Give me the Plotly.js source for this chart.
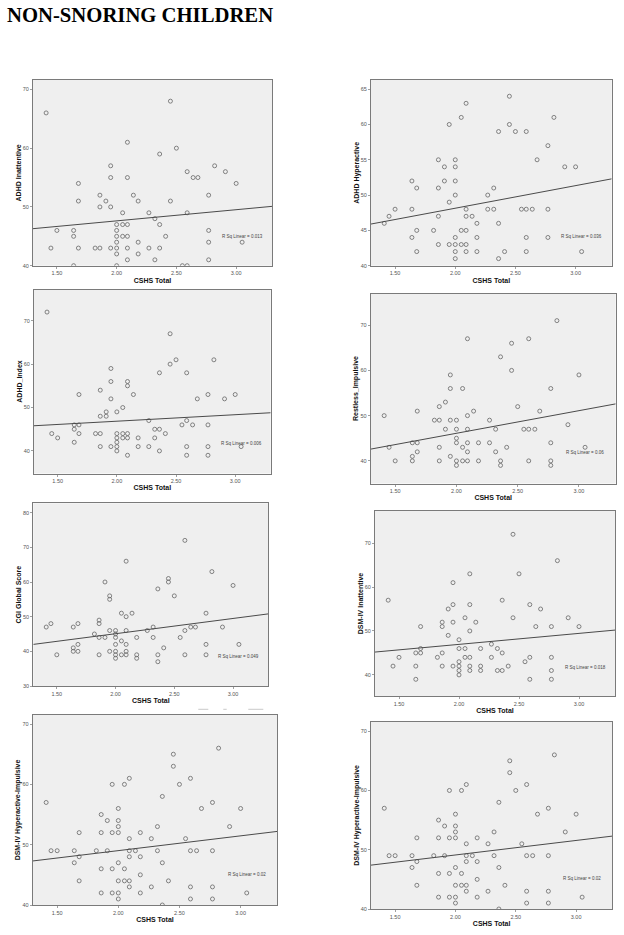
<!DOCTYPE html>
<html><head><meta charset="utf-8">
<script src="https://cdn.plot.ly/plotly-3.0.1.min.js"></script>
<style>html,body{margin:0;padding:0;background:#fff;}#chart{width:624px;height:935px;}</style>
</head><body><div id="chart"></div>
<script>
// ---- DATA ----
const chartTitle = 'NON-SNORING CHILDREN';
const xTitle = 'CSHS Total';
const yTitles = ['ADHD Inattentive','ADHD Hyperactive','ADHD_Index','Restless_Impulsive',
                 'CGI Global Score','DSM-IV Inattentive','DSM-IV Hyperactive-Impulsive','DSM-IV Hyperactive-Impulsive'];
const rSqLabels = ['R Sq Linear = 0.013','R Sq Linear = 0.036','R Sq Linear = 0.006','R Sq Linear = 0.06',
                   'R Sq Linear = 0.049','R Sq Linear = 0.018','R Sq Linear = 0.02','R Sq Linear = 0.02'];

const inattX = [1.41,2.45,2.09,2.50,2.36,1.95,2.82,2.59,2.91,1.95,2.09,2.64,2.68,1.68,3.00,1.86,2.14,2.77,1.68,1.91,2.18,2.45,1.86,1.95,2.05,2.27,2.59,2.32,2.00,2.05,2.09,2.36,1.50,1.64,2.00,2.77,1.64,2.00,2.05,2.09,2.41,2.00,2.18,2.77,3.05,1.45,1.68,1.82,1.86,1.95,2.00,2.09,2.27,2.36,2.00,2.18,2.09,2.32,2.77,1.64,2.00,2.55,2.59];
const inattY = [66,68,61,60,59,57,57,56,56,55,55,55,55,54,54,52,52,52,51,51,51,51,50,50,49,49,49,48,47,47,47,47,46,46,46,46,45,45,45,45,45,44,44,44,44,43,43,43,43,43,43,43,43,43,42,42,41,41,41,40,40,40,40];

const hyperX = [2.45,2.09,2.05,2.82,1.95,2.45,2.36,2.50,2.59,2.77,1.86,2.00,2.68,1.91,2.00,2.91,3.00,1.64,1.91,2.00,1.68,1.86,2.32,2.00,2.27,1.95,1.50,1.64,2.09,2.27,2.32,2.55,2.59,2.64,2.77,1.45,1.86,2.09,2.14,1.41,2.18,2.36,1.68,1.82,2.05,2.09,1.64,2.00,2.18,2.59,2.77,1.86,1.95,2.00,2.05,2.09,1.68,2.00,2.09,2.18,2.41,2.59,3.05,2.00,2.36];
const hyperY = [64,63,61,61,60,60,59,59,59,57,55,55,55,54,54,54,54,52,52,52,51,51,51,50,50,49,48,48,48,48,48,48,48,48,48,47,47,47,47,46,46,46,45,45,45,45,44,44,44,44,44,43,43,43,43,43,42,42,42,42,42,42,42,41,41];

const indexX = [1.41,2.45,2.50,2.82,2.45,1.95,2.36,2.59,1.95,2.09,2.09,1.86,1.68,2.14,2.77,3.00,1.95,2.68,2.91,2.05,1.91,2.00,1.86,1.91,2.27,2.59,1.64,1.68,2.55,2.64,2.77,1.64,2.32,2.36,1.45,1.68,1.82,1.86,2.00,2.05,2.09,2.41,1.50,2.00,2.05,2.09,2.18,2.32,1.64,2.00,1.86,1.95,2.00,2.18,2.27,2.59,2.77,3.05,2.00,2.36,2.09,2.59,2.77];
const indexY = [72,67,61,61,60,59,58,58,56,56,55,54,53,53,53,53,52,52,52,50,49,49,48,48,47,47,46,46,46,46,46,45,45,45,44,44,44,44,44,44,44,44,43,43,43,43,43,43,42,42,41,41,41,41,41,41,41,41,40,40,39,39,39];

const restX = [2.82,2.09,2.59,2.45,2.36,2.45,1.95,3.00,1.95,2.05,2.77,1.91,1.86,2.50,1.68,2.14,2.68,1.41,2.09,1.82,1.86,1.95,2.00,2.27,2.91,1.91,2.00,2.09,2.32,2.55,2.59,2.64,2.00,1.64,1.68,2.00,2.09,2.18,2.27,2.77,1.45,1.86,2.05,2.41,3.05,1.68,2.09,2.32,1.64,1.95,1.50,1.64,1.86,2.00,2.05,2.09,2.18,2.36,2.59,2.77,2.00,2.36,2.77];
const restY = [71,67,67,66,63,60,59,59,56,56,56,53,52,52,51,51,51,50,50,49,49,49,49,49,48,47,47,47,47,47,47,47,45,44,44,44,44,44,44,44,43,43,43,43,43,42,42,42,41,41,40,40,40,40,40,40,40,40,40,40,39,39,39];

const cgiX = [2.59,2.09,2.82,2.45,2.45,1.91,3.00,2.36,2.50,1.95,1.95,2.05,2.14,2.77,2.09,1.86,1.86,1.45,1.68,1.41,1.64,2.32,2.64,2.68,2.91,1.95,2.00,2.09,2.27,2.59,1.82,2.00,1.86,1.91,2.00,2.18,2.32,2.55,2.05,1.68,2.00,2.09,2.77,3.05,1.64,2.41,1.64,1.68,1.95,2.00,2.09,1.50,1.86,2.00,2.05,2.09,2.18,2.36,2.59,2.77,2.00,2.18,2.36];
const cgiY = [72,66,63,61,60,60,59,58,56,56,55,51,51,51,50,49,48,48,48,47,47,47,47,47,47,46,46,46,46,46,45,45,44,44,44,44,44,44,43,42,42,42,42,42,41,41,40,40,40,40,40,39,39,39,39,39,39,39,39,39,38,38,37];

const dsmInX = [2.45,2.82,2.09,2.50,1.95,1.41,2.36,1.95,2.09,2.59,1.91,2.68,2.05,2.45,2.91,1.86,1.95,2.14,1.68,1.86,2.64,2.77,3.00,2.09,1.91,2.00,2.27,1.68,2.00,2.05,2.18,2.32,1.64,1.68,1.86,2.36,1.50,1.82,2.05,2.09,2.27,2.59,2.77,2.00,2.55,1.45,1.64,1.86,1.95,2.00,2.09,2.18,2.41,2.00,2.09,2.18,2.32,2.36,2.77,2.00,1.64,2.59,2.77];
const dsmInY = [72,66,63,63,61,57,57,56,56,56,55,55,53,53,53,52,52,52,51,51,51,51,51,50,49,48,47,46,46,46,46,46,45,45,45,45,44,44,44,44,44,44,44,43,43,42,42,42,42,42,42,42,42,41,41,41,41,41,41,40,39,39,39];

const dsmHiX = [2.82,2.45,2.45,2.09,2.59,1.95,2.05,2.50,2.36,1.41,2.77,2.00,2.68,3.00,1.86,1.91,2.00,2.00,2.32,2.91,1.68,1.86,1.95,2.00,2.18,2.09,2.27,2.55,1.45,1.50,1.64,1.82,1.91,2.09,2.14,2.32,2.59,2.64,2.77,1.68,2.09,2.18,1.64,2.00,2.36,1.86,1.95,2.05,2.18,1.68,2.00,2.05,2.09,2.41,2.09,2.27,2.59,2.77,1.86,1.95,2.00,2.18,3.05,2.00,2.59,2.77,2.36];
const dsmHiY = [66,65,63,61,61,60,60,60,58,57,57,56,56,56,55,54,54,53,53,53,52,52,52,52,52,51,51,51,49,49,49,49,49,49,49,49,49,49,49,48,48,48,47,47,47,46,46,46,45,44,44,44,44,44,43,43,43,43,42,42,42,42,42,41,41,41,40];

// fitted linear line values read at the left (x=1.3) and right (x=3.3) ends
const fitXEnds = [1.3, 3.3];
const fitLeft  = [46.3, 45.9, 45.8, 42.6, 42.0, 45.2, 47.3, 47.4];
const fitRight = [50.1, 52.3, 48.8, 52.6, 50.8, 50.2, 52.2, 52.3];

// ---- LAYOUT (positions / styles) ----
const W = 624, H = 935;
const seriesX = [inattX, hyperX, indexX, restX, cgiX, dsmInX, dsmHiX, dsmHiX];
const seriesY = [inattY, hyperY, indexY, restY, cgiY, dsmInY, dsmHiY, dsmHiY];
// plot boxes in px: [left, right, top, bottom]
const boxes = [[33,272,80,265.7],[371,611.7,80,265.7],[34,270.7,289.5,473.5],[370.7,615.7,293.5,483.5],
               [33.3,268.3,503.3,686],[375,615,511,696],[32.7,277.3,715,905],[371,612.3,721.7,909]];
const yRanges = [[40,71.6],[40,66.3],[34.8,77.2],[35,77],[30,82.7],[35.2,77.3],[40,71.5],[40,71.6]];
const yDticks = [10,5,10,10,10,10,10,10];
const rSqY = [45.0,44.2,41.6,41.8,38.5,41.8,45.0,45.1];

const FONT = 'Liberation Sans, Arial, sans-serif';
const traces = [];
const layout = {
  width: W, height: H, margin: {l:0,r:0,t:0,b:0},
  paper_bgcolor: '#ffffff', plot_bgcolor: '#efefef', showlegend: false,
  font: {family: FONT, color: '#333'},
  title: {text: '<b>' + chartTitle + '</b>', x: 7/W, xanchor: 'left', xref: 'container',
          y: 1 - 15/H, yanchor: 'middle', yref: 'container',
          font: {family: 'Liberation Serif, Times New Roman, serif', size: 20.7, color: '#000'}},
  annotations: [], shapes: []
};

for (let i = 0; i < 8; i++) {
  const n = i === 0 ? '' : String(i + 1);
  const [l, r, t, b] = boxes[i];
  traces.push({
    type: 'scatter', mode: 'markers', x: seriesX[i], y: seriesY[i],
    xaxis: 'x' + n, yaxis: 'y' + n, hoverinfo: 'x+y',
    marker: {symbol: 'circle-open', size: 4, color: '#666666', line: {width: 0.8, color: '#666666'}}
  });
  traces.push({
    type: 'scatter', mode: 'lines', x: fitXEnds, y: [fitLeft[i], fitRight[i]],
    xaxis: 'x' + n, yaxis: 'y' + n, hoverinfo: 'skip',
    line: {color: '#4a4a4a', width: 1}
  });
  layout['xaxis' + n] = {
    domain: [l / W, r / W], anchor: 'y' + n, range: [1.3, 3.3],
    tick0: 1.5, dtick: 0.5, tickformat: '.2f',
    ticks: 'outside', ticklen: 2, tickwidth: 0.8, tickcolor: '#888',
    tickfont: {size: 5.5, color: '#555', family: FONT},
    showline: true, mirror: true, linecolor: '#7a7a7a', linewidth: 1,
    showgrid: false, zeroline: false,
    title: {text: xTitle, standoff: 2, font: {size: 7, family: FONT, color: '#111', weight: 'bold'}}
  };
  layout['yaxis' + n] = {
    domain: [1 - b / H, 1 - t / H], anchor: 'x' + n, range: yRanges[i],
    tick0: 0, dtick: yDticks[i],
    ticks: 'outside', ticklen: 2, tickwidth: 0.8, tickcolor: '#888',
    tickfont: {size: 5.5, color: '#555', family: FONT},
    showline: true, mirror: true, linecolor: '#7a7a7a', linewidth: 1,
    showgrid: false, zeroline: false,
    title: {text: yTitles[i], standoff: 0, font: {size: 7, family: FONT, color: '#111', weight: 'bold'}}
  };
  layout.annotations.push({
    xref: 'x' + n, yref: 'y' + n, x: 3.05, y: rSqY[i], text: rSqLabels[i],
    showarrow: false, xanchor: 'center', yanchor: 'middle',
    font: {size: 4.5, color: '#444', family: FONT}
  });
}
// faint scan marks between the lower-left panels
[[198.3,208.3],[223.3,226.7],[248.3,263.3]].forEach(function (s) {
  layout.shapes.push({type: 'line', xref: 'paper', yref: 'paper', x0: s[0]/W, x1: s[1]/W,
    y0: 1 - 709.3/H, y1: 1 - 709.3/H, line: {color: '#bbbbbb', width: 0.8}});
});

Plotly.newPlot('chart', traces, layout, {staticPlot: true, displayModeBar: false});
</script>
</body></html>
